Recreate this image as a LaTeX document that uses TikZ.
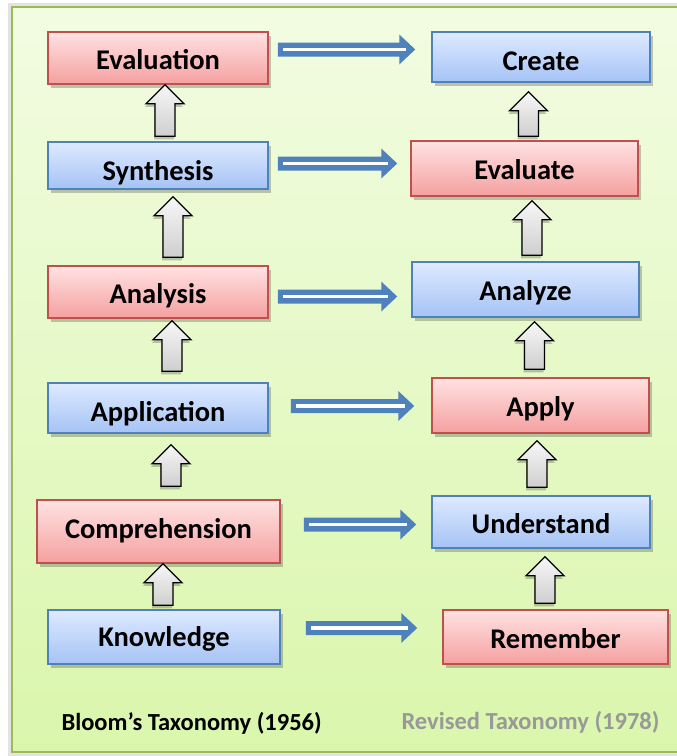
\documentclass[tikz,border=0pt]{standalone}
\usepackage{fontspec}
\setmainfont{Carlito}
\usetikzlibrary{calc,shadows}

\definecolor{redtop}{RGB}{255,226,226}
\definecolor{redbot}{RGB}{245,160,160}
\definecolor{redline}{RGB}{192,80,77}
\definecolor{bluetop}{RGB}{222,234,255}
\definecolor{bluebot}{RGB}{165,195,245}
\definecolor{blueline}{RGB}{79,129,189}
\definecolor{arrowblue}{RGB}{79,129,189}
\definecolor{pagetop}{RGB}{242,252,226}
\definecolor{pagebot}{RGB}{218,246,172}
\definecolor{pageline}{RGB}{155,187,89}

\tikzset{
  level/.style={rectangle, line width=1.5pt, inner sep=0pt,
    font=\fontsize{28.5}{30}\selectfont\bfseries, text height=22pt, text depth=0pt,
    drop shadow={shadow xshift=3pt, shadow yshift=-4pt, fill=black, opacity=.22}},
  redlevel/.style={level, draw=redline, top color=redtop, bottom color=redbot},
  bluelevel/.style={level, draw=blueline, top color=bluetop, bottom color=bluebot},
  liftarr/.style={draw=black, line width=1.3pt, line join=miter,
    top color=gray!6, bottom color=gray!38,
    drop shadow={shadow xshift=-1pt, shadow yshift=-3pt, fill=black, opacity=.22},
    to path={let \p1=(\tikztostart), \p2=(\tikztotarget) in
      ({\x1-10pt},\y1) -- ({\x1-10pt},{\y2-19pt}) -- ({\x1-19pt},{\y2-19pt})
      -- (\x1,\y2) -- ({\x1+19pt},{\y2-19pt}) -- ({\x1+10pt},{\y2-19pt})
      -- ({\x1+10pt},\y1) -- cycle}},
  maparrow/.style={fill=arrowblue,
    path picture={\fill[white] ([xshift=5pt,yshift=-1.8pt]path picture bounding box.west)
      rectangle ([xshift=-9pt,yshift=1.8pt]path picture bounding box.east);},
    to path={let \p1=(\tikztostart), \p2=(\tikztotarget) in
      (\x1,{\y1+7pt}) -- ({\x2-16pt},{\y1+7pt}) -- ({\x2-16pt},{\y1+15pt})
      -- (\x2,\y1) -- ({\x2-16pt},{\y1-15pt}) -- ({\x2-16pt},{\y1-7pt})
      -- (\x1,{\y1-7pt}) -- cycle}}
}

\begin{document}
\begin{tikzpicture}[x=1pt,y=-1pt]
\useasboundingbox (0,0) rectangle (677,756);
\clip (0,0) rectangle (677,756);

% page
\fill[gray!22] (8,3) rectangle (700,756);
\draw[pageline, line width=2pt, top color=pagetop, bottom color=pagebot] (12,7) rectangle (700,752);

% Bloom 1956
\node[redlevel, minimum width=220pt, minimum height=52pt] (evaluation) at (158,58) {Evaluation};
\node[bluelevel, minimum width=220pt, minimum height=47pt, text height=29pt] (synthesis) at (158,165.5) {Synthesis};
\node[redlevel, minimum width=220pt, minimum height=52pt] (analysis) at (158,292) {Analysis};
\node[bluelevel, minimum width=220pt, minimum height=50pt, text height=26pt] (application) at (158,408) {Application};
\node[redlevel, minimum width=243pt, minimum height=63pt, text height=13pt] (comprehension) at (158.5,531.5) {Comprehension};
\node[bluelevel, minimum width=232pt, minimum height=54pt, text height=18pt] (knowledge) at (164,637) {Knowledge};

% revised
\node[bluelevel, minimum width=218pt, minimum height=50pt, text height=26pt] (create) at (541,57) {Create};
\node[redlevel, minimum width=227pt, minimum height=55pt] (evaluate) at (524.5,168.5) {Evaluate};
\node[bluelevel, minimum width=227pt, minimum height=55pt] (analyze) at (525.5,289.5) {Analyze};
\node[redlevel, minimum width=217pt, minimum height=55pt] (apply) at (540.5,405.5) {Apply};
\node[bluelevel, minimum width=218pt, minimum height=52pt] (understand) at (541,522) {Understand};
\node[redlevel, minimum width=225pt, minimum height=54pt] (remember) at (555.5,637) {Remember};

% upward steps
\draw[liftarr] ([xshift=7pt,yshift=5pt]synthesis.north) to (evaluation.south);
\draw[liftarr] ([xshift=15pt,yshift=8pt]analysis.north) to ([yshift=-7pt]synthesis.south);
\draw[liftarr] ([xshift=14pt,yshift=11pt]application.north) to ([yshift=-2pt]analysis.south);
\draw[liftarr] ([xshift=12.5pt,yshift=13pt]comprehension.north) to ([yshift=-11pt]application.south);
\draw[liftarr] ([xshift=-1pt,yshift=4pt]knowledge.north) to (comprehension.south);

\draw[liftarr] ([xshift=4pt,yshift=4pt]evaluate.north) to ([yshift=-9pt]create.south);
\draw[liftarr] ([xshift=6.5pt,yshift=6pt]analyze.north) to ([yshift=-4pt]evaluate.south);
\draw[liftarr] ([xshift=-6pt,yshift=8pt]apply.north) to ([yshift=-4pt]analyze.south);
\draw[liftarr] ([xshift=-4pt,yshift=8pt]understand.north) to ([yshift=-7pt]apply.south);
\draw[liftarr] ([xshift=-10.5pt,yshift=6pt]remember.north) to ([yshift=-8pt]understand.south);

% mapping old -> new
\path[maparrow] ([xshift=9pt,yshift=8.5pt]evaluation.east) to ([xshift=-16pt]create.west);
\path[maparrow] ([xshift=9pt,yshift=2pt]synthesis.east) to ([xshift=-13pt]evaluate.west);
\path[maparrow] ([xshift=9pt,yshift=-4.5pt]analysis.east) to ([xshift=-14pt]analyze.west);
\path[maparrow] ([xshift=22pt,yshift=2pt]application.east) to ([xshift=-17pt]apply.west);
\path[maparrow] ([xshift=23pt,yshift=7pt]comprehension.east) to ([xshift=-15pt]understand.west);
\path[maparrow] ([xshift=25pt,yshift=9pt]knowledge.east) to ([xshift=-25pt]remember.west);

% captions
\node[anchor=base west, font=\fontsize{24.5}{26}\selectfont\bfseries] (bloomname) at (58,730) {Bloom’s Taxonomy (1956)};
\node[anchor=base west, font=\fontsize{24.5}{26}\selectfont\bfseries, text=black!40] (revisedname) at (398,729) {Revised Taxonomy (1978)};
\end{tikzpicture}
\end{document}
